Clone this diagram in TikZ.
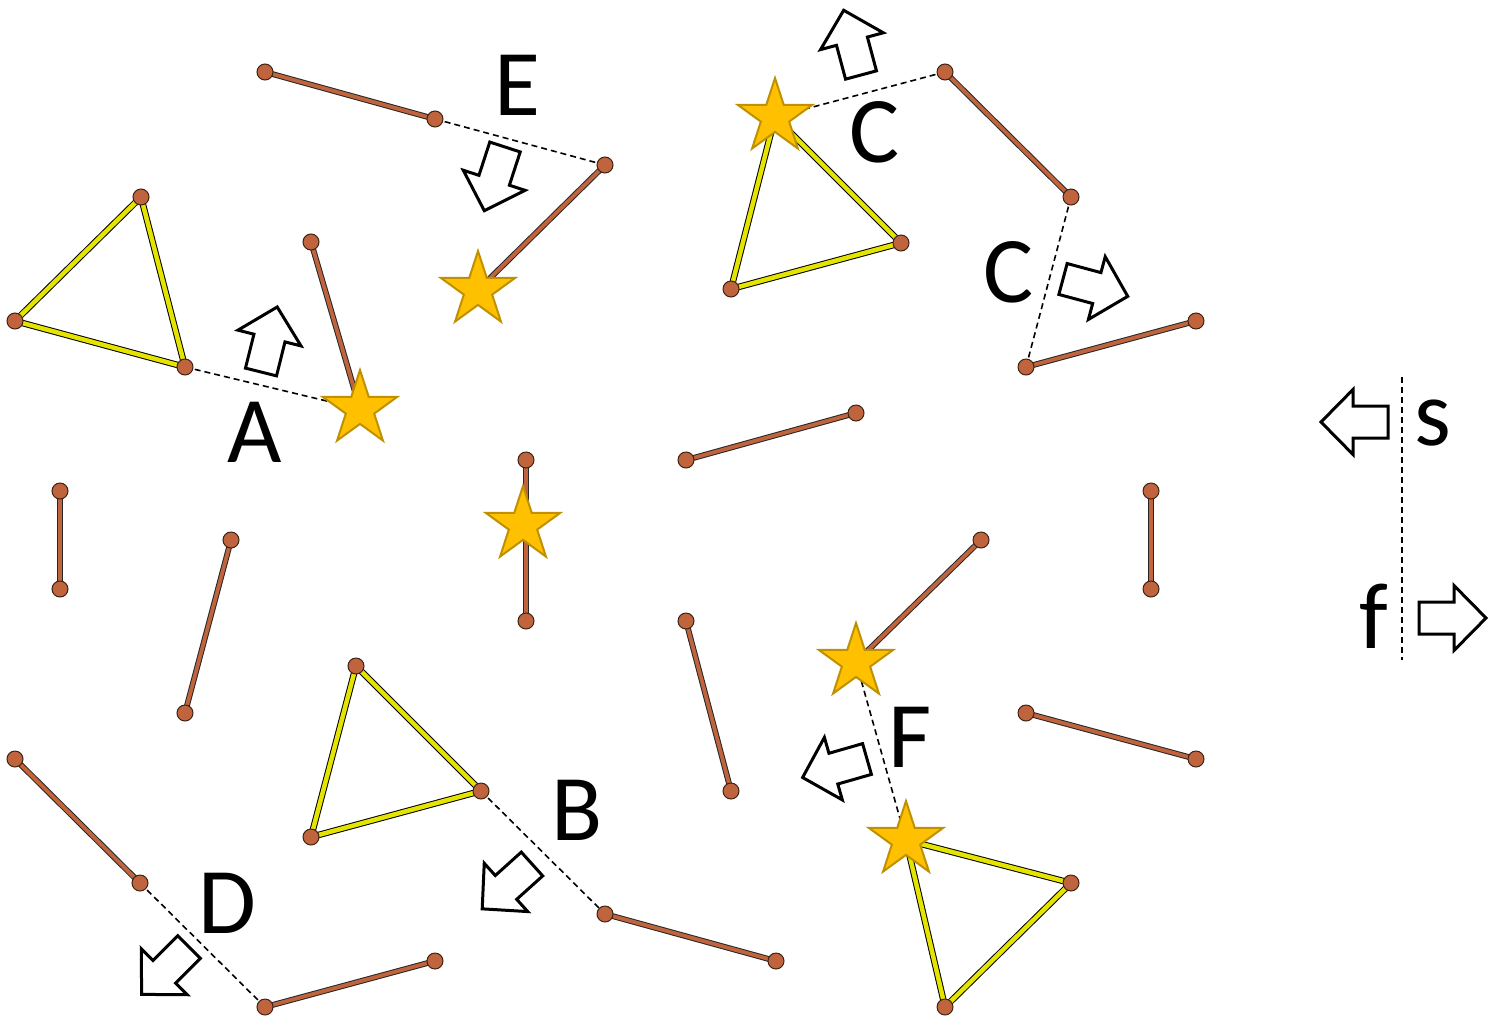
\documentclass[tikz,border=0pt]{standalone}
\usepackage{fontspec}
\setmainfont{Carlito}
\usetikzlibrary{shapes.geometric}
\definecolor{stickbrown}{RGB}{192,100,62}
\definecolor{triyellow}{RGB}{228,228,0}
\definecolor{stargold}{RGB}{255,192,0}
\definecolor{staredge}{RGB}{191,144,0}
\definecolor{dotedge}{RGB}{60,35,20}
\tikzset{
 stick/.style={draw=black!85, line width=1pt, double=stickbrown, double distance=3.8pt},
 tri/.style={draw=black, line width=1pt, double=triyellow, double distance=4.5pt},
 link/.style={draw=black, line width=1.6pt, dash pattern=on 6pt off 4pt},
 ball/.style={circle, fill=stickbrown, draw=dotedge, line width=1pt, minimum size=16pt, inner sep=0pt},
 starnode/.style={star, star points=5, star point ratio=2.618, fill=stargold, draw=staredge, line width=2pt, minimum size=78pt, inner sep=0pt},
 lbl/.style={font=\fontsize{94}{94}\selectfont, inner sep=0pt},
 blockarrow/.style={draw=black, line width=3pt, fill=white, line join=miter},
 barrow/.pic={\path[blockarrow] (0,-16)--(35,-16)--(35,-32.5)--(67,0)--(35,32.5)--(35,16)--(0,16)--cycle;}
}
\begin{document}
\begin{tikzpicture}[x=1pt,y=-1pt]
\useasboundingbox (0,0) rectangle (1499,1018);
% points
\coordinate (s1a) at (265,72);   \coordinate (s1b) at (435,119);
\coordinate (s2a) at (605,165);  \coordinate (starE) at (478,290);
\coordinate (s3a) at (311,242);  \coordinate (starA) at (360,409);
\coordinate (s4a) at (60,491);   \coordinate (s4b) at (60,589);
\coordinate (s5a) at (231,540);  \coordinate (s5b) at (185,713);
\coordinate (s6a) at (526,460);  \coordinate (s6b) at (526,621);
\coordinate (starM) at (523,525);
\coordinate (s7a) at (686,460);  \coordinate (s7b) at (856,413);
\coordinate (s8a) at (686,621);  \coordinate (s8b) at (731,791);
\coordinate (s9a) at (945,72);   \coordinate (s9b) at (1071,197);
\coordinate (s10a) at (1026,367); \coordinate (s10b) at (1196,321);
\coordinate (s11a) at (1151,491); \coordinate (s11b) at (1151,589);
\coordinate (s12a) at (981,540); \coordinate (starF1) at (856,662);
\coordinate (s13a) at (1026,713); \coordinate (s13b) at (1196,759);
\coordinate (s14a) at (15,759);  \coordinate (s14b) at (140,883);
\coordinate (s15a) at (265,1007); \coordinate (s15b) at (435,961);
\coordinate (s16a) at (605,914); \coordinate (s16b) at (776,961);
\coordinate (t1a) at (141,197);  \coordinate (t1b) at (15,321);  \coordinate (t1c) at (185,367);
\coordinate (starC) at (775,117); \coordinate (t2b) at (901,243); \coordinate (t2c) at (731,289);
\coordinate (t3a) at (356,666);  \coordinate (t3b) at (481,791); \coordinate (t3c) at (311,837);
\coordinate (starF2) at (906,840); \coordinate (t4b) at (1071,883); \coordinate (t4c) at (945,1007);
\coordinate (sfTop) at (1402,377); \coordinate (sfBot) at (1402,660);
% dashed links
\draw[link] (s1b) -- (s2a);
\draw[link] (t1c) -- (starA);
\draw[link] (starC) -- (s9a);
\draw[link] (s9b) -- (s10a);
\draw[link] (starF1) -- (starF2);
\draw[link] (t3b) -- (s16a);
\draw[link] (s14b) -- (s15a);
\draw[link, line width=1.3pt] (sfTop) -- (sfBot);
% sticks
\draw[stick] (s1a) -- (s1b);
\draw[stick] (s2a) -- (starE);
\draw[stick] (s3a) -- (starA);
\draw[stick] (s4a) -- (s4b);
\draw[stick] (s5a) -- (s5b);
\draw[stick] (s6a) -- (s6b);
\draw[stick] (s7a) -- (s7b);
\draw[stick] (s8a) -- (s8b);
\draw[stick] (s9a) -- (s9b);
\draw[stick] (s10a) -- (s10b);
\draw[stick] (s11a) -- (s11b);
\draw[stick] (s12a) -- (starF1);
\draw[stick] (s13a) -- (s13b);
\draw[stick] (s14a) -- (s14b);
\draw[stick] (s15a) -- (s15b);
\draw[stick] (s16a) -- (s16b);
% triangles
\draw[tri] (t1a) -- (t1b) -- (t1c) -- cycle;
\draw[tri] (starC) -- (t2b) -- (t2c) -- cycle;
\draw[tri] (t3a) -- (t3b) -- (t3c) -- cycle;
\draw[tri] (starF2) -- (t4b) -- (t4c) -- cycle;
% balls
\foreach \p in {s1a,s1b,s2a,s3a,s4a,s4b,s5a,s5b,s6a,s6b,s7a,s7b,s8a,s8b,s9a,s9b,s10a,s10b,s11a,s11b,s12a,s13a,s13b,s14a,s14b,s15a,s15b,s16a,s16b,t1a,t1b,t1c,t2b,t2c,t3a,t3b,t3c,t4b,t4c}
  \node[ball] (ball-\p) at (\p) {};
% stars
\foreach \p in {starE,starA,starM,starF1,starC,starF2}
  \node[starnode] (node-\p) at (\p) {};
% block arrows
\pic[rotate=76]  at (261,372)  {barrow};
\pic[rotate=252] at (505,147)  {barrow};
\pic[rotate=105] at (861,75)   {barrow};
\pic[rotate=-15] at (1063,279) {barrow};
\pic[rotate=180] at (1388,422) {barrow};
\pic[rotate=0]   at (1419,618) {barrow};
\pic[rotate=196] at (867,759)  {barrow};
\pic[rotate=222] at (532,864)  {barrow};
\pic[rotate=225] at (189,947)  {barrow};
% labels
\node[lbl] (lE) at (517,85) {E};
\node[lbl] (lA) at (255,432) {A};
\node[lbl] (lC1) at (875,132) {C};
\node[lbl] (lC2) at (1009,272) {C};
\node[lbl] (ls) at (1433,423) {s};
\node[lbl] (lf) at (1374,616) {f};
\node[lbl] (lF) at (910,737) {F};
\node[lbl] (lB) at (577,810) {B};
\node[lbl] (lD) at (227,903) {D};
\end{tikzpicture}
\end{document}
